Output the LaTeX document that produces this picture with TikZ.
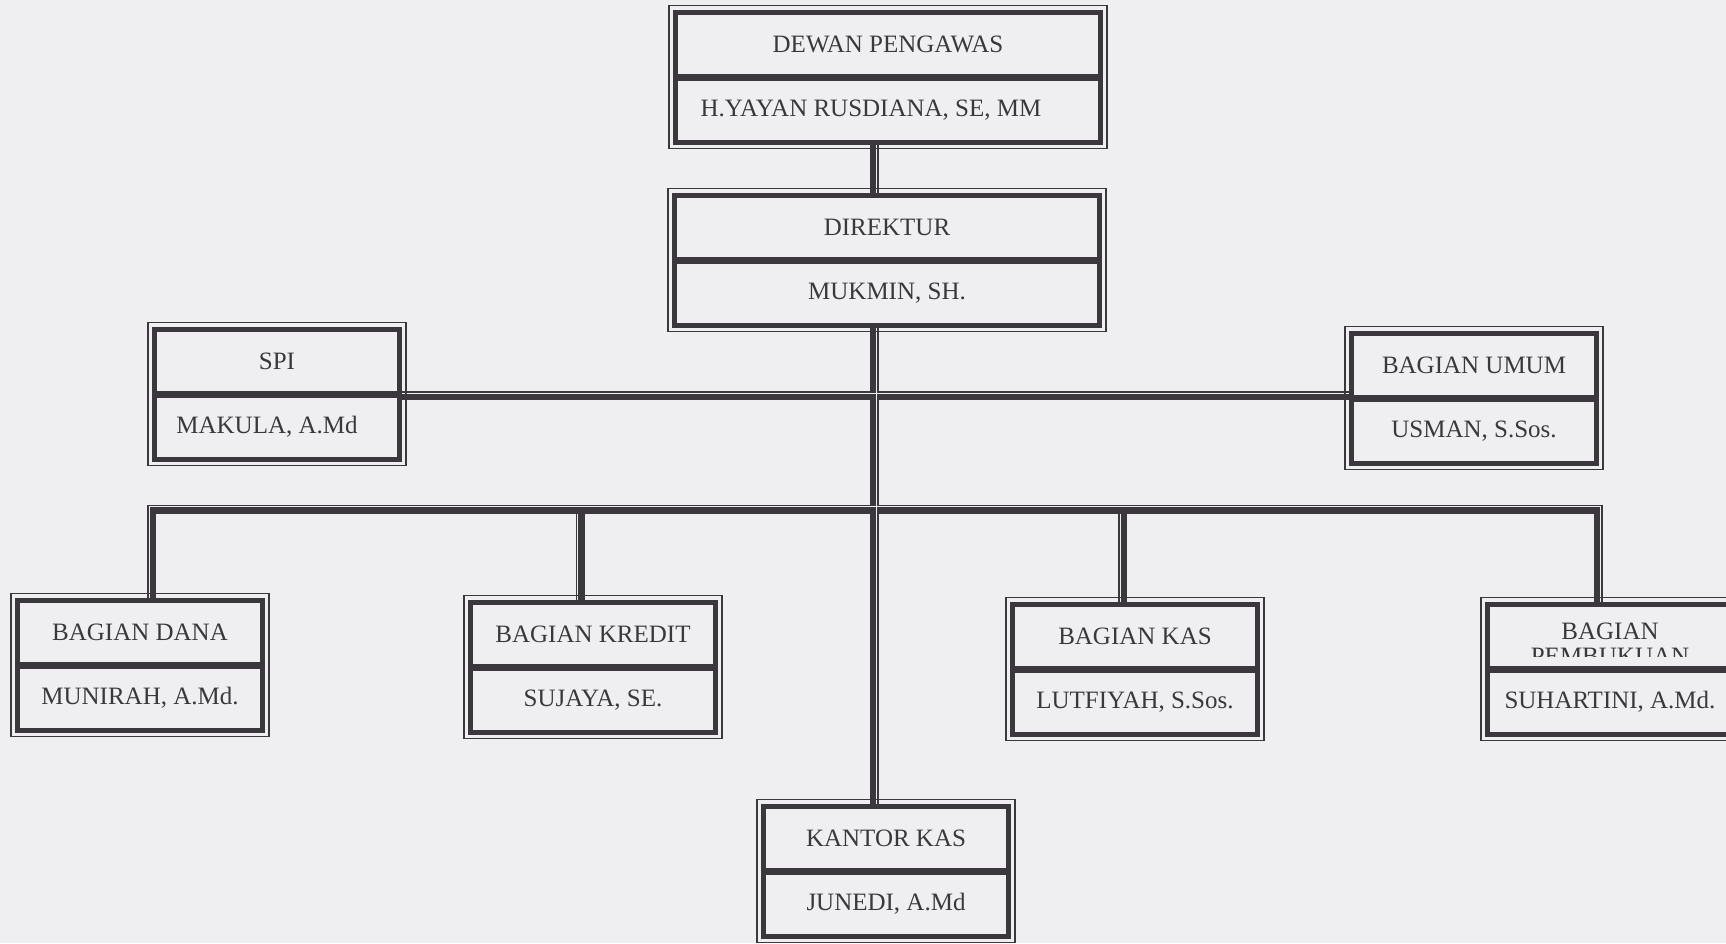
\documentclass[tikz,border=0pt]{standalone}
\usepackage{fontspec}
\setmainfont{Liberation Serif}
\usetikzlibrary{positioning,backgrounds}

\definecolor{paper}{RGB}{239,239,242}
\definecolor{ink}{RGB}{58,56,60}

\tikzset{
	unit/.style={draw=ink, line width=5pt, inner sep=0pt, minimum height=64pt,
		text=ink, font=\fontsize{25}{26}\selectfont},
	wide/.style={minimum width=425pt},
	narrow/.style={minimum width=245pt},
	frame/.style={draw=ink, line width=1.4pt},
	link/.style={draw=ink, line width=9pt},
	gap/.style={draw=paper, line width=1.3pt},
	lbl/.style={inner sep=0pt, text=ink, font=\fontsize{25}{26}\selectfont},
}

\begin{document}
\begin{tikzpicture}[x=1pt, y=-1pt]
	\useasboundingbox (0,0) rectangle (1726,943);
	\clip (0,0) rectangle (1726,943);
	
	%units: title part above name part
	\node[unit, wide] (dewan) at (888,44) {DEWAN PENGAWAS};
	\node[unit, wide, below=-3pt of dewan] (dewan-n) {H.YAYAN RUSDIANA, SE, MM\hspace*{34pt}};
	
	\node[unit, wide] (direktur) at (887,227) {DIREKTUR};
	\node[unit, wide, below=-3pt of direktur] (direktur-n) {MUKMIN, SH.};
	
	\node[unit, narrow] (spi) at (277,361) {SPI};
	\node[unit, narrow, below=-3pt of spi] (spi-n) {MAKULA, A.Md\hspace*{20pt}};
	
	\node[unit, narrow] (umum) at (1474,365) {BAGIAN UMUM};
	\node[unit, narrow, below=-3pt of umum] (umum-n) {USMAN, S.Sos.};
	
	\node[unit, narrow] (dana) at (140,632) {BAGIAN DANA};
	\node[unit, narrow, below=-3pt of dana] (dana-n) {MUNIRAH, A.Md.};
	
	\node[unit, narrow] (kredit) at (593,634) {BAGIAN KREDIT};
	\node[unit, narrow, below=-3pt of kredit] (kredit-n) {SUJAYA, SE.};
	
	\node[unit, narrow] (kas) at (1135,636) {BAGIAN KAS};
	\node[unit, narrow, below=-3pt of kas] (kas-n) {LUTFIYAH, S.Sos.};
	
	\node[unit, narrow] (buku) at (1610,636) {};
	\node[unit, narrow, below=-3pt of buku] (buku-n) {SUHARTINI, A.Md.};
	
	\node[unit, narrow] (kantor) at (886,838) {KANTOR KAS};
	\node[unit, narrow, below=-3pt of kantor] (kantor-n) {JUNEDI, A.Md};
	
	%second line of the title is cut off
	\node[lbl, anchor=base] (buku-t) at ([yshift=-38pt]buku.north) {BAGIAN};
	\begin{scope}
		\clip ([yshift=-2.5pt]buku.north west) rectangle ([yshift=-54.5pt]buku.north east);
		\node[lbl, anchor=base] (buku-u) at ([yshift=-63pt]buku.north) {PEMBUKUAN};
	\end{scope}
	
	%thin outer frames
	\foreach \u in {dewan,direktur,spi,umum,dana,kredit,kas,buku,kantor}{
		\draw[frame] ([shift={(-4pt,4pt)}]\u.north west) rectangle ([shift={(4pt,-4pt)}]\u-n.south east);
	}
	
	\begin{scope}[on background layer]
		\fill[paper] (0,0) rectangle (1726,943);
		\coordinate (bus) at (875,509);
		
		%connectors
		\draw[link] ([xshift=-13.5pt]dewan-n.south) -- ([xshift=-12.5pt]direktur.north);
		\draw[link] ([xshift=-12.5pt]direktur-n.south) -- ([xshift=-11.5pt]kantor.north);
		\draw[link] (spi.south east) -- (spi.south east -| umum.west);
		\draw[link] ([xshift=11.5pt]dana.north) |- (bus) -| ([xshift=-11.5pt]buku.north);
		\draw[link] ([xshift=-13pt]kredit.north) -- ([xshift=-13pt]kredit.north |- bus);
		\draw[link] ([xshift=-12.5pt]kas.north) -- ([xshift=-12.5pt]kas.north |- bus);
		
		%light slit along each connector
		\draw[gap] ([xshift=-11.3pt]dewan-n.south) -- ([xshift=-10.3pt]direktur.north);
		\draw[gap] ([xshift=-10.3pt]direktur-n.south) -- ([xshift=-9.3pt]kantor.north);
		\draw[gap] ([yshift=2.2pt]spi.south east) -- ([yshift=2.2pt]spi.south east -| umum.west);
		\draw[gap] ([xshift=9.3pt]dana.north) |- ([yshift=2.2pt]bus) -| ([xshift=-9.3pt]buku.north);
		\draw[gap] ([xshift=-15.2pt]kredit.north) -- ([xshift=-15.2pt,yshift=-4.5pt]kredit.north |- bus);
		\draw[gap] ([xshift=-14.7pt]kas.north) -- ([xshift=-14.7pt,yshift=-4.5pt]kas.north |- bus);
	\end{scope}
\end{tikzpicture}
\end{document}
